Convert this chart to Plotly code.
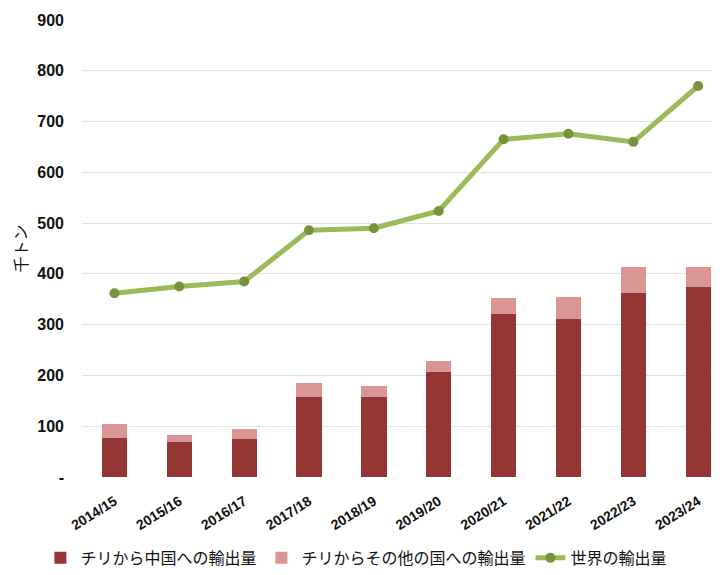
import plotly.graph_objects as go

categories = ["2014/15", "2015/16", "2016/17", "2017/18", "2018/19",
              "2019/20", "2020/21", "2021/22", "2022/23", "2023/24"]
china = [77, 68, 75, 157, 158, 207, 322, 312, 362, 375]
others = [27, 15, 20, 28, 21, 21, 30, 43, 52, 39]
world = [362, 375, 385, 486, 490, 524, 665, 676, 660, 770]

y_ticks = [0, 100, 200, 300, 400, 500, 600, 700, 800, 900]
y_ticktext = ["-", "100", "200", "300", "400", "500", "600", "700", "800", "900"]

x = list(range(len(categories)))

fig = go.Figure()
fig.add_trace(go.Bar(x=x, y=china, name="チリから中国への輸出量",
                     marker=dict(color="#943634", line=dict(width=0)), width=0.39))
fig.add_trace(go.Bar(x=x, y=others, name="チリからその他の国への輸出量",
                     marker=dict(color="#D99694", line=dict(width=0)), width=0.39))
fig.add_trace(go.Scatter(x=x, y=world, name="世界の輸出量", mode="lines+markers",
                         line=dict(color="#9BBB59", width=5),
                         marker=dict(color="#77933C", size=10)))

fig.update_layout(
    width=720, height=575,
    barmode="stack",
    plot_bgcolor="white", paper_bgcolor="white",
    margin=dict(l=74, r=0, t=12, b=106, autoexpand=False),
    font=dict(family="Liberation Sans, Arial, sans-serif", color="#1a1a1a"),
    showlegend=True,
    legend=dict(orientation="h", xref="container", yref="container",
                x=0.045, xanchor="left", y=0.014, yanchor="bottom",
                font=dict(family="Noto Sans CJK JP", size=16, color="#111"),
                itemwidth=30, tracegroupgap=0, traceorder="normal"),
    xaxis=dict(tickmode="array", tickvals=x, ticktext=categories, automargin=False,
               range=[-0.5, 9.46], tickangle=-32, showgrid=False, zeroline=False,
               showline=False, ticks="outside", ticklen=10, tickcolor="rgba(0,0,0,0)",
               tickfont=dict(family="Liberation Sans", size=14, color="#111", weight="bold")),
    yaxis=dict(range=[0, 900], tickmode="array", tickvals=y_ticks, ticktext=y_ticktext,
               automargin=False,
               showgrid=True, gridcolor="#e3e3e3", gridwidth=1, zeroline=False,
               showline=False, ticks="", ticklabelstandoff=17,
               tickfont=dict(family="Liberation Sans", size=16, color="#111", weight="bold"),
               title=dict(text="千トン", standoff=9,
                          font=dict(family="Noto Sans CJK JP", size=16, color="#111"))),
)

fig.write_html("out.html")
